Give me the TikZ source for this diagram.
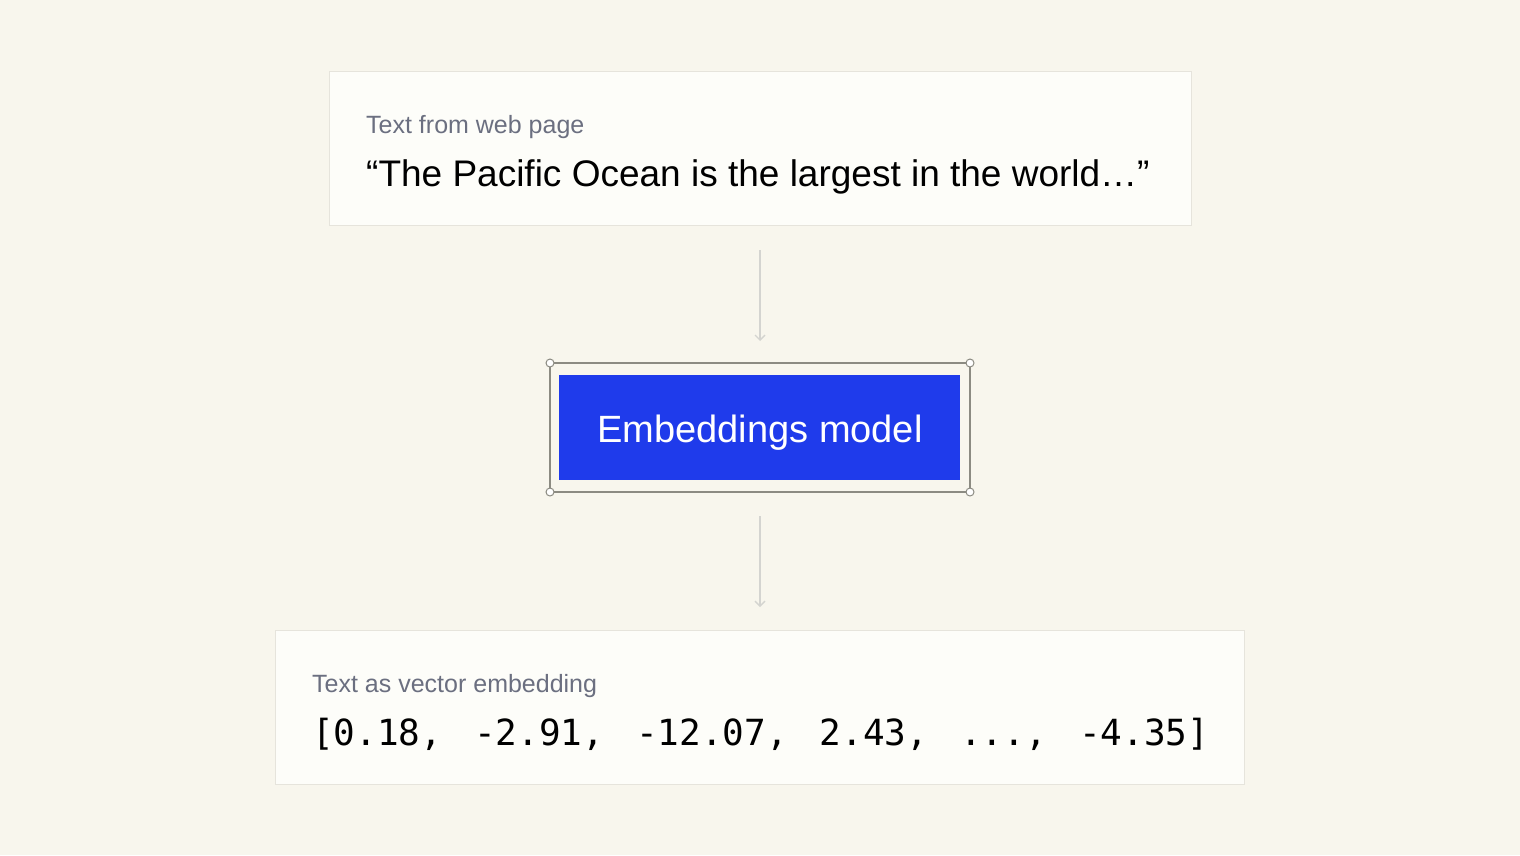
\documentclass[tikz,border=0pt]{standalone}
\usepackage{fontspec}
\setmainfont{Liberation Sans}
\newfontfamily\monofont{DejaVu Sans Mono}
\usetikzlibrary{arrows.meta}
\definecolor{bg}{HTML}{F8F6ED}
\definecolor{cardfill}{HTML}{FDFDF9}
\definecolor{cardline}{HTML}{E6E4DC}
\definecolor{labelgray}{HTML}{6B6F80}
\definecolor{arrowgray}{HTML}{D4D4D0}
\definecolor{framegray}{HTML}{8C8B82}
\definecolor{modelblue}{HTML}{1F3BEB}
\tikzset{
  card/.style={draw=cardline, line width=1pt, fill=cardfill},
  cardlabel/.style={anchor=base west, inner sep=0pt, text=labelgray, font=\fontsize{25}{28}\selectfont},
  cardtext/.style={anchor=base west, inner sep=0pt, text=black},
  flow/.style={draw=arrowgray, line width=1.4pt, -{Straight Barb[length=5pt,width=10pt]}},
  handle/.style={circle, draw=framegray, fill=white, line width=1pt, minimum size=8pt, inner sep=0pt},
}
\newcommand{\vsp}{\hspace{32pt}}
\begin{document}
\begin{tikzpicture}[x=1pt,y=-1pt]
  \useasboundingbox[fill=bg] (0,0) rectangle (1520,855);
  % top card
  \draw[card] (329,71) rectangle (1191,225);
  \node[cardlabel] (toplabel) at (366,133) {Text from web page};
  \node[cardtext, font=\fontsize{37}{40}\selectfont] (toptext) at (366,186) {“The Pacific Ocean is the largest in the world…”};
  \coordinate (topcard) at (760,250);
  % model
  \draw[framegray, line width=1.2pt] (550,363) rectangle (970,492);
  \node[fill=modelblue, minimum width=401pt, minimum height=105pt, inner sep=0pt] (model) at (759.5,427.5) {};
  \node[anchor=base, inner sep=0pt, text=white, font=\fontsize{38}{40}\selectfont] (modeltext) at (760,442) {Embeddings model};
  \node[handle] (h1) at (550,363) {};
  \node[handle] (h2) at (970,363) {};
  \node[handle] (h3) at (550,492) {};
  \node[handle] (h4) at (970,492) {};
  \coordinate (modeltop) at (760,341);
  \coordinate (modelbot) at (760,516);
  % bottom card
  \draw[card] (275,630) rectangle (1244,784);
  \node[cardlabel] (botlabel) at (312,692) {Text as vector embedding};
  \node[cardtext, font=\monofont\fontsize{36}{40}\selectfont] (vec) at (312,745)
    {[0.18,\vsp-2.91,\vsp-12.07,\vsp2.43,\vsp...,\vsp-4.35]};
  \coordinate (botcard) at (760,607);
  % arrows
  \draw[flow] (topcard) -- (modeltop);
  \draw[flow] (modelbot) -- (botcard);
\end{tikzpicture}
\end{document}
